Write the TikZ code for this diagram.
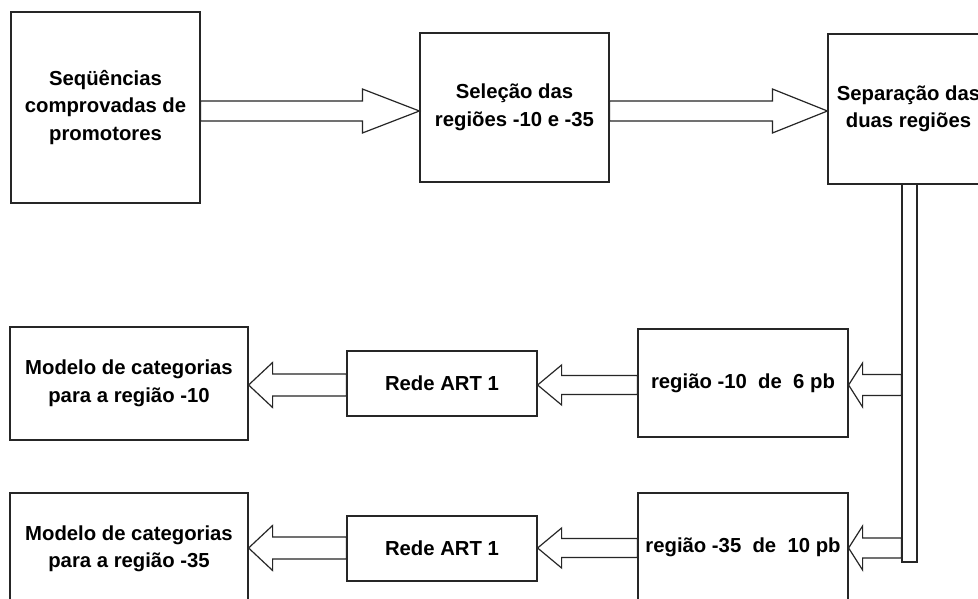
\documentclass[tikz,border=0pt]{standalone}
\usepackage{fontspec}
\setmainfont{Liberation Sans}
\usetikzlibrary{calc}

\tikzset{
  blk/.style={draw=black!85, line width=1.2pt, fill=white, inner sep=0pt,
    align=center, font=\bfseries\fontsize{20.3}{27.5}\selectfont},
  arrowline/.style={draw=black!85, line width=1.2pt, fill=white, line join=miter},
}

% hollow block arrow: #1 start, #2 tip, #3 head length, #4 shaft half-width, #5 head half-width
\newcommand\blockarrow[5]{%
  \coordinate (s) at (#1);
  \coordinate (t) at (#2);
  \path ($(t)!#3!(s)$) coordinate (ha);
  \draw[arrowline]
    ($(s)!#4!90:(t)$) -- ($(ha)!#4!90:(t)$) -- ($(ha)!#5!90:(t)$) -- (t)
    -- ($(ha)!#5!-90:(t)$) -- ($(ha)!#4!-90:(t)$) -- ($(s)!#4!-90:(t)$) -- cycle;}

\begin{document}
\begin{tikzpicture}[x=1pt, y=-1pt]
  \useasboundingbox (0,0) rectangle (978,599);
  \fill[white] (0,0) rectangle (978,599);
  \clip (0,0) rectangle (978,599);

  % top row
  \node[blk, minimum width=189pt, minimum height=191pt] (seq) at (105.5,107.5)
    {Seqüências\\comprovadas de\\promotores};
  \node[blk, minimum width=189pt, minimum height=149pt] (sel) at (514.5,107.5)
    {Seleção das\\regiões -10 e -35};
  \node[blk, minimum width=161pt, minimum height=150pt] (sep) at (908.5,109)
    {Separação das\\duas regiões};

  % vertical distribution bar
  \node[draw=black!85, line width=1.2pt, fill=white, inner sep=0pt,
        minimum width=15pt, minimum height=378pt] (bar) at (909.5,373) {};

  % region boxes
  \node[blk, minimum width=210pt, minimum height=108pt] (r10) at (743,383)
    {região -10\ \ de\ \ 6 pb};
  \node[blk, minimum width=210pt, minimum height=109pt] (r35) at (743,547.5)
    {região -35\ \ de\ \ 10 pb};

  % ART networks
  \node[blk, minimum width=190pt, minimum height=65pt] (art1) at (442,383.5) {Rede ART 1};
  \node[blk, minimum width=190pt, minimum height=65pt] (art2) at (442,548.5) {Rede ART 1};

  % category models
  \node[blk, minimum width=238pt, minimum height=113pt] (m10) at (129,383.5)
    {Modelo de categorias\\para a região -10};
  \node[blk, minimum width=238pt, minimum height=112pt] (m35) at (129,549)
    {Modelo de categorias\\para a região -35};

  % rows of the arrows
  \coordinate (rowA) at (0,111);
  \coordinate (rowB) at (0,385);
  \coordinate (rowC) at (0,548);

  \blockarrow{seq.east |- rowA}{sel.west |- rowA}{57pt}{10pt}{22pt}
  \blockarrow{sel.east |- rowA}{sep.west |- rowA}{55pt}{10pt}{22pt}

  \blockarrow{bar.west |- rowB}{r10.east |- rowB}{14pt}{10.5pt}{22pt}
  \blockarrow{bar.west |- rowC}{r35.east |- rowC}{14pt}{10pt}{22pt}

  \blockarrow{r10.west |- rowB}{art1.east |- rowB}{24pt}{9.5pt}{20pt}
  \blockarrow{r35.west |- rowC}{art2.east |- rowC}{24pt}{9.5pt}{20pt}

  \blockarrow{art1.west |- rowB}{m10.east |- rowB}{24pt}{11pt}{22.5pt}
  \blockarrow{art2.west |- rowC}{m35.east |- rowC}{24pt}{11pt}{22.5pt}
\end{tikzpicture}
\end{document}
